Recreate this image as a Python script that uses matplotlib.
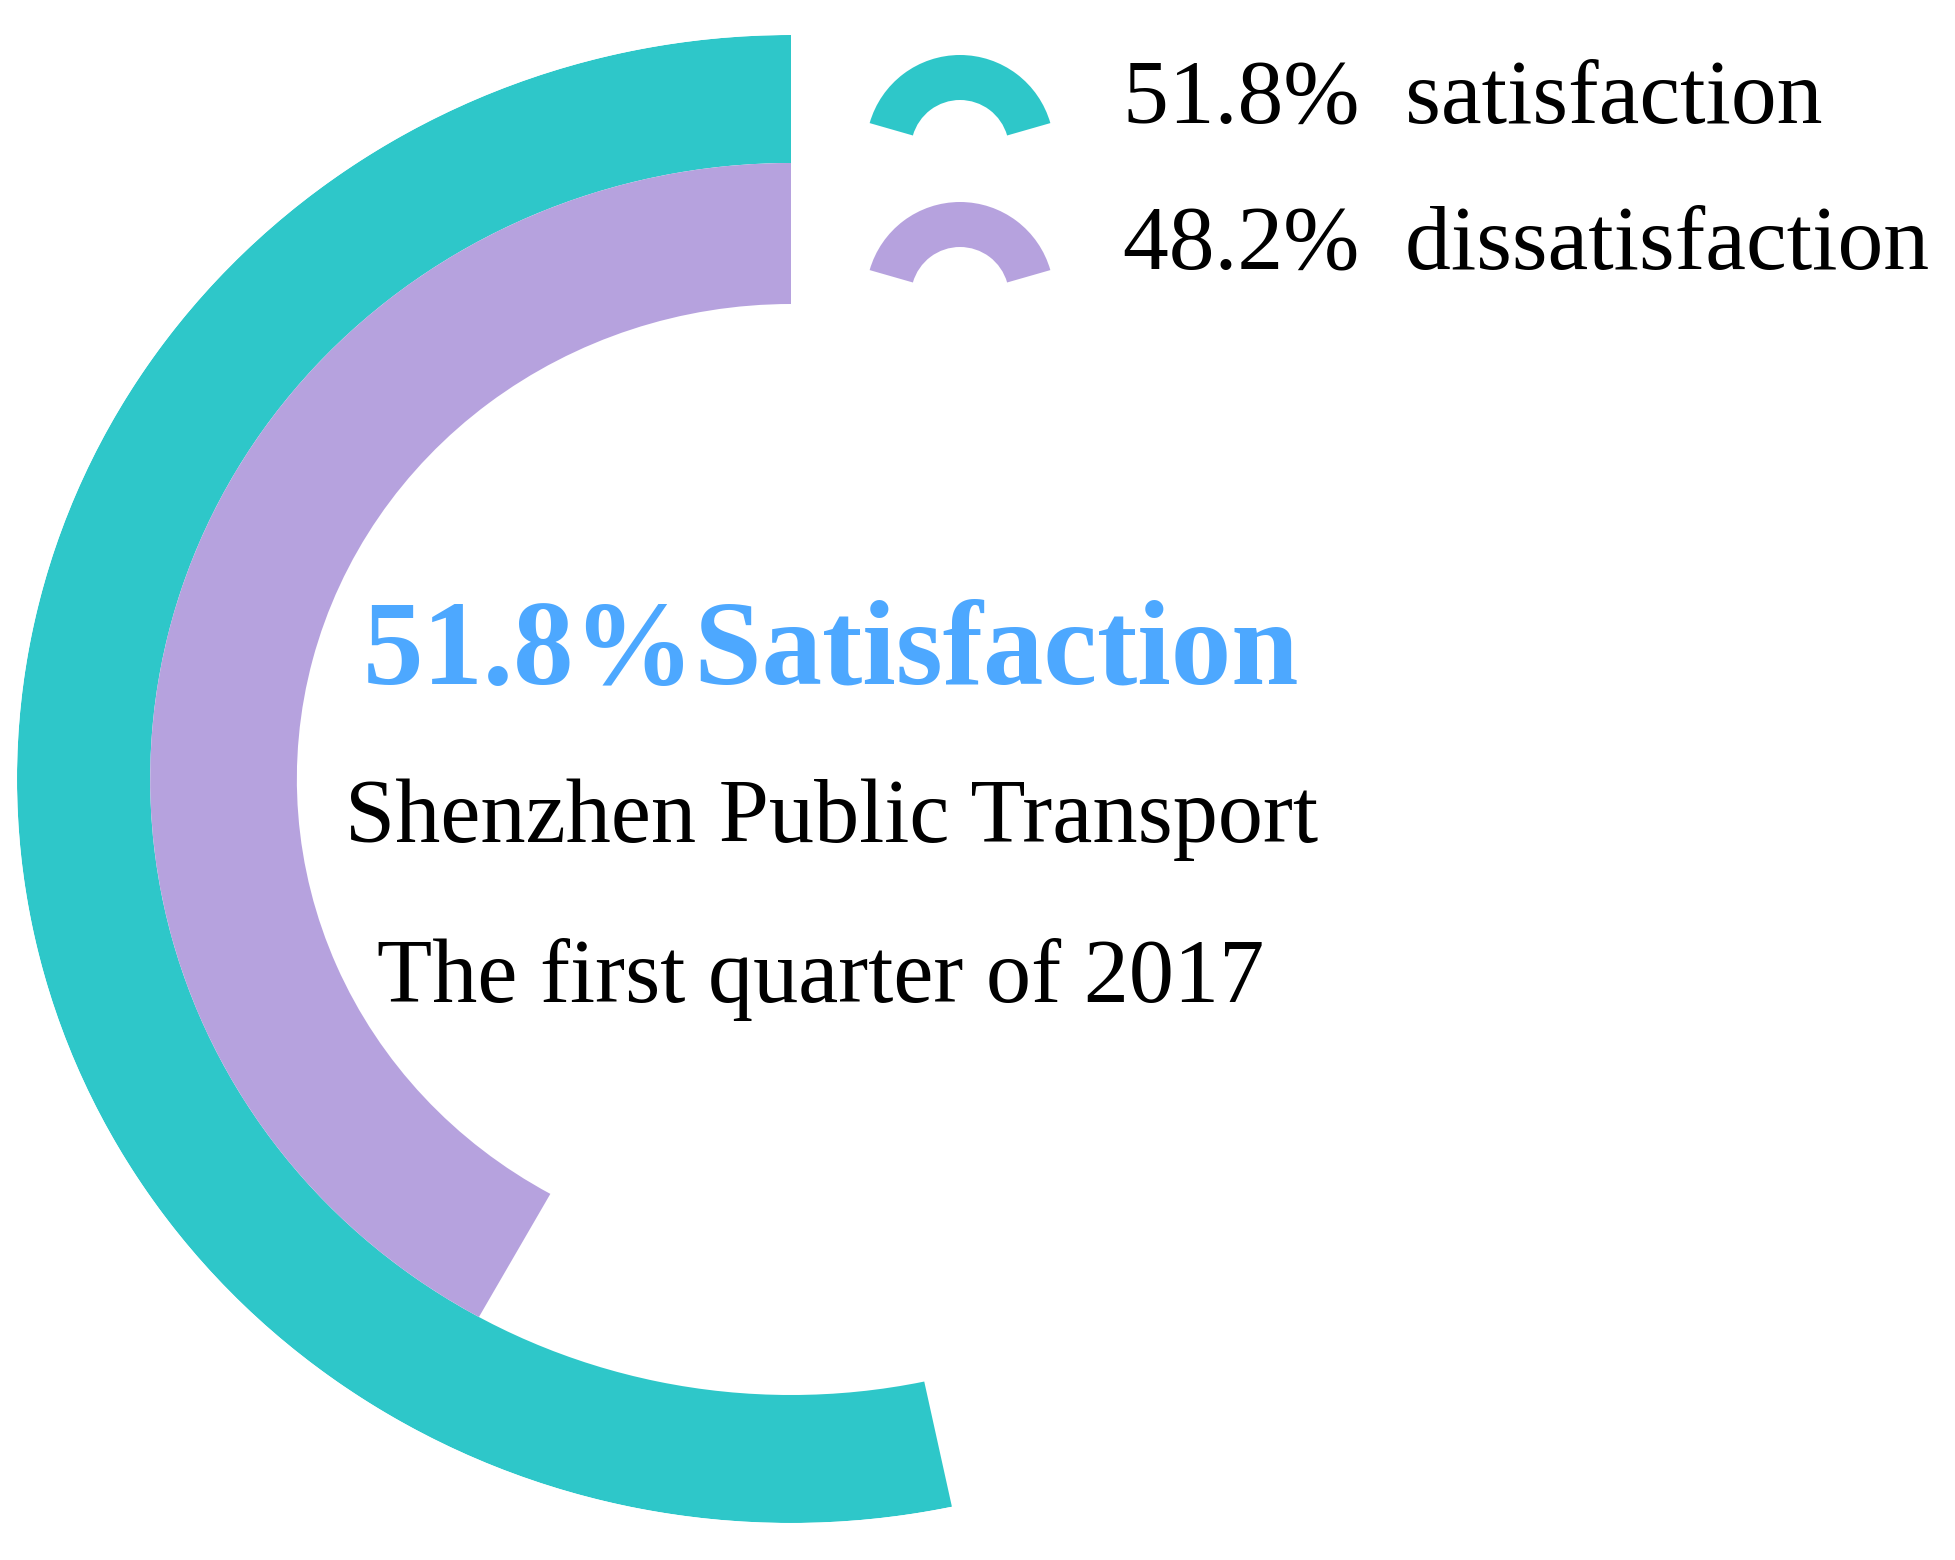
import numpy as np
import matplotlib
matplotlib.use("Agg")
import matplotlib.pyplot as plt
from matplotlib.patches import Wedge

# ---- data ----
categories = ["satisfaction", "dissatisfaction"]
values = [51.8, 48.2]
colors = ["#2EC7C9", "#B6A2DE"]
angle_axis_range = [35.0, 66.5]   # value range mapped onto the full circle
title_text = "51.8%Satisfaction"
subtitle_lines = ["Shenzhen Public Transport", "The first quarter of 2017"]

W, H = 1956, 1560
DPI = 100
fig = plt.figure(figsize=(W / DPI, H / DPI), dpi=DPI)
fig.patch.set_facecolor("white")

# ---- radial bars on a polar axes ----
cx, cy = 791, 779
Rv, Rh = 744, 774
ax = fig.add_axes([(cx - Rh) / W, (H - (cy + Rv)) / H, 2 * Rh / W, 2 * Rv / H],
                  projection="polar")
ax.set_aspect("auto")
ax.set_theta_zero_location("N")
ax.set_theta_direction(1)
ax.set_ylim(0, 1)
ax.axis("off")

ring_bottom = [616 / 744, 475 / 744]
ring_height = [1 - 616 / 744, (616 - 475) / 744]
amin, amax = angle_axis_range
for v, c, b, h in zip(values, colors, ring_bottom, ring_height):
    span = (v - amin) / (amax - amin) * 2 * np.pi
    ax.barh(b + h / 2, span, left=0, height=h, color=c, edgecolor="none",
            align="center")

# ---- overlay for text and legend (pixel coordinates) ----
ov = fig.add_axes([0, 0, 1, 1])
ov.set_xlim(0, W)
ov.set_ylim(0, H)
ov.axis("off")
ov.patch.set_alpha(0)

serif = ["Liberation Serif", "DejaVu Serif"]

# legend
icon_y = [149, 296]
text_y = [122, 268]
for i, (cat, v, c) in enumerate(zip(categories, values, colors)):
    ov.add_patch(Wedge((960, H - icon_y[i]), 94, 16, 164, width=45,
                       facecolor=c, edgecolor="none"))
    ov.text(1123, H - text_y[i], f"{v}%  {cat}", family=serif,
            fontsize=66, color="black", ha="left", va="baseline")

# centre text
ov.text(831, H - 684, title_text, family=serif, fontweight="bold",
        fontsize=87, color="#4DA8FF", ha="center", va="baseline")
ov.text(832, H - 842, subtitle_lines[0], family=serif, fontsize=65,
        color="black", ha="center", va="baseline")
ov.text(821, H - 1002, subtitle_lines[1], family=serif, fontsize=65,
        color="black", ha="center", va="baseline")

fig.savefig("out.png", dpi=DPI, facecolor="white")
